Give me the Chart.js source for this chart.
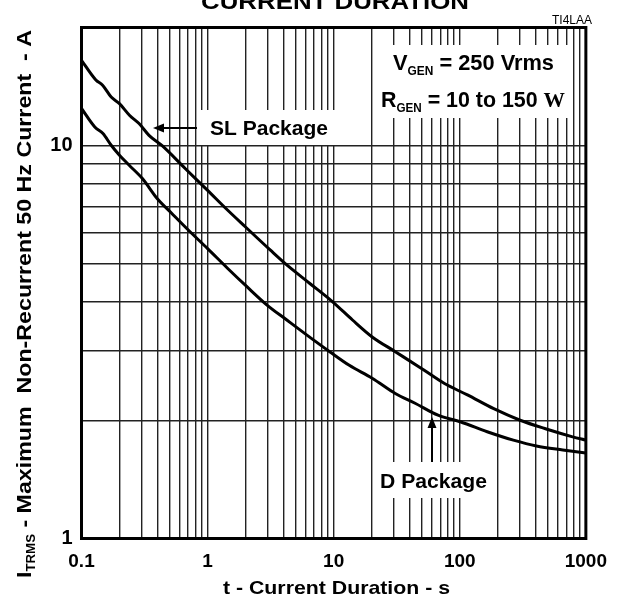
<!DOCTYPE html>
<html><head><meta charset="utf-8">
<script src="https://cdn.jsdelivr.net/npm/chart.js@4"></script>
<style>html,body{margin:0;padding:0;background:#fff;}#wrap{width:619px;height:614px;}</style>
</head><body><div id="wrap"><canvas id="c" width="619" height="614"></canvas></div>
<script>
// ---- data ----
const slTime = [0.1, 0.13, 0.147, 0.172, 0.2, 0.24, 0.286, 0.343, 0.436, 0.664, 1.0, 1.445, 2.0, 3.15, 4.13, 6.47, 9.86, 14.1, 20.2, 30.8, 49.7, 75.7, 115, 186, 301, 485, 785, 1000];
const slCurrent = [16.5, 14.7, 14.26, 13.3, 12.8, 11.96, 11.39, 10.63, 10.0, 8.75, 7.7, 6.85, 6.21, 5.42, 5.01, 4.46, 4.0, 3.6, 3.26, 2.99, 2.71, 2.48, 2.32, 2.14, 2.0, 1.90, 1.815, 1.78];
const dTime = [0.1, 0.1275, 0.148, 0.172, 0.2, 0.239, 0.304, 0.398, 0.521, 0.703, 1.0, 1.445, 2.06, 2.96, 4.25, 6.1, 9.3, 13.3, 20.2, 30.8, 44.2, 67.2, 102, 165, 266, 405, 656, 1000];
const dCurrent = [12.44, 11.16, 10.74, 10.03, 9.46, 8.92, 8.25, 7.34, 6.72, 6.1, 5.47, 4.87, 4.37, 3.93, 3.6, 3.3, 2.99, 2.76, 2.56, 2.34, 2.21, 2.06, 1.98, 1.87, 1.78, 1.72, 1.68, 1.65];

const xGridValues = [0.1,0.2,0.3,0.4,0.5,0.6,0.7,0.8,0.9,1,2,3,4,5,6,7,8,9,10,20,30,40,50,60,70,80,90,100,200,300,400,500,600,700,800,900,1000];
const xTickValues = [0.1, 1, 10, 100, 1000];
const xTickLabels = ['0.1', '1', '10', '100', '1000'];
const yGridValues = [1,2,3,4,5,6,7,8,9,10,20];
const yTickValues = [1, 10];
const yTickLabels = ['1', '10'];

const titleText = 'CURRENT DURATION';
const figCode = 'TI4LAA';
const xTitle = 't - Current Duration - s';
const yTitleMain = 'I', yTitleSub = 'TRMS', yTitleRest = ' - Maximum  Non-Recurrent 50 Hz Current  - A';
const slLabel = 'SL Package';
const dLabel = 'D Package';

const F = '"Liberation Sans", Arial, sans-serif';

function drawRuns(ctx, runs, x, y, targetW) {
  let total = 0;
  runs.forEach(r => { ctx.font = r.font; r.w = ctx.measureText(r.t).width; total += r.w; });
  const sx = targetW ? targetW / total : 1;
  ctx.save();
  ctx.translate(x, y);
  ctx.scale(sx, 1);
  ctx.textAlign = 'left';
  ctx.textBaseline = 'alphabetic';
  let cx = 0;
  runs.forEach(r => { ctx.font = r.font; ctx.fillText(r.t, cx, r.dy || 0); cx += r.w; });
  ctx.restore();
}

const annot = {
  id: 'annot',
  beforeDatasetsDraw(chart) {
    const ctx = chart.ctx;
    ctx.save();
    ctx.fillStyle = '#fff';
    ctx.fillRect(200, 110, 137, 35);   // SL label box
    ctx.fillRect(377, 45, 194, 73);    // V/R box
    ctx.fillRect(377, 462, 119, 36);   // D label box
    ctx.restore();
  },
  afterDatasetsDraw(chart) {
    const ctx = chart.ctx;
    const a = chart.chartArea;
    ctx.save();
    ctx.strokeStyle = '#000';
    ctx.lineWidth = 3;
    ctx.strokeRect(a.left, a.top, a.right - a.left, a.bottom - a.top);
    ctx.fillStyle = '#000';
    drawRuns(ctx, [{t: titleText, font: 'bold 22px ' + F}], 201, 9, 268);
    ctx.font = '12px ' + F;
    ctx.textAlign = 'right';
    ctx.fillText(figCode, 592, 24);
    drawRuns(ctx, [{t: slLabel, font: 'bold 21px ' + F}], 210, 135, 118);
    ctx.lineWidth = 2;
    ctx.beginPath(); ctx.moveTo(197, 128); ctx.lineTo(160, 128); ctx.stroke();
    ctx.beginPath(); ctx.moveTo(153, 128); ctx.lineTo(164, 123.5); ctx.lineTo(164, 132.5); ctx.closePath(); ctx.fill();
    drawRuns(ctx, [{t: dLabel, font: 'bold 21px ' + F}], 380, 488, 107);
    ctx.beginPath(); ctx.moveTo(432, 462); ctx.lineTo(432, 424); ctx.stroke();
    ctx.beginPath(); ctx.moveTo(432, 417); ctx.lineTo(427.5, 428); ctx.lineTo(436.5, 428); ctx.closePath(); ctx.fill();
    drawRuns(ctx, [
      {t: 'V', font: 'bold 22px ' + F},
      {t: 'GEN', font: 'bold 12px ' + F, dy: 5},
      {t: ' = 250 Vrms', font: 'bold 22px ' + F}
    ], 393, 70, 161);
    drawRuns(ctx, [
      {t: 'R', font: 'bold 22px ' + F},
      {t: 'GEN', font: 'bold 12px ' + F, dy: 4.5},
      {t: ' = 10 to 150 ', font: 'bold 22px ' + F},
      {t: 'W', font: 'bold 22px "Liberation Serif", "DejaVu Serif", serif'}
    ], 381, 107, 184);
    drawRuns(ctx, [{t: xTitle, font: 'bold 19px ' + F}], 223, 594, 227);
    ctx.save();
    ctx.translate(31, 578);
    ctx.rotate(-Math.PI / 2);
    drawRuns(ctx, [
      {t: yTitleMain, font: 'bold 21px ' + F},
      {t: yTitleSub, font: 'bold 12px ' + F, dy: 4},
      {t: yTitleRest, font: 'bold 21px ' + F}
    ], 0, 0, 548);
    ctx.restore();
    ctx.restore();
  }
};

new Chart(document.getElementById('c'), {
  type: 'line',
  data: {
    datasets: [
      {label: 'SL Package', data: slTime.map((t, i) => ({x: t, y: slCurrent[i]})), borderColor: '#000', borderWidth: 3, pointRadius: 0, cubicInterpolationMode: 'monotone', fill: false},
      {label: 'D Package', data: dTime.map((t, i) => ({x: t, y: dCurrent[i]})), borderColor: '#000', borderWidth: 3, pointRadius: 0, cubicInterpolationMode: 'monotone', fill: false}
    ]
  },
  options: {
    responsive: false,
    animation: false,
    devicePixelRatio: 1,
    layout: {padding: {top: 27.5, right: 25.5, left: 0, bottom: 0}},
    plugins: {legend: {display: false}, tooltip: {enabled: false}, title: {display: false}},
    scales: {
      x: {
        type: 'logarithmic', min: 0.1, max: 1000,
        afterBuildTicks: s => { s.ticks = xGridValues.map(v => ({value: v})); },
        afterFit: s => { s.height = 75.5; },
        grid: {color: '#222', lineWidth: 1.4, drawTicks: false},
        border: {display: false},
        ticks: {
          autoSkip: false, maxRotation: 0, padding: 12, color: '#000',
          font: {family: 'Liberation Sans', weight: 'bold', size: 19},
          callback: v => { const i = xTickValues.indexOf(v); return i >= 0 ? xTickLabels[i] : ''; }
        }
      },
      y: {
        type: 'logarithmic', min: 1, max: 20,
        afterBuildTicks: s => { s.ticks = yGridValues.map(v => ({value: v})); },
        afterFit: s => { s.width = 81.5; },
        grid: {color: '#222', lineWidth: 1.4, drawTicks: false},
        border: {display: false},
        ticks: {
          autoSkip: false, padding: 9, color: '#000',
          font: {family: 'Liberation Sans', weight: 'bold', size: 20},
          callback: v => { const i = yTickValues.indexOf(v); return i >= 0 ? yTickLabels[i] : ''; }
        }
      }
    }
  },
  plugins: [annot]
});
</script></body></html>
